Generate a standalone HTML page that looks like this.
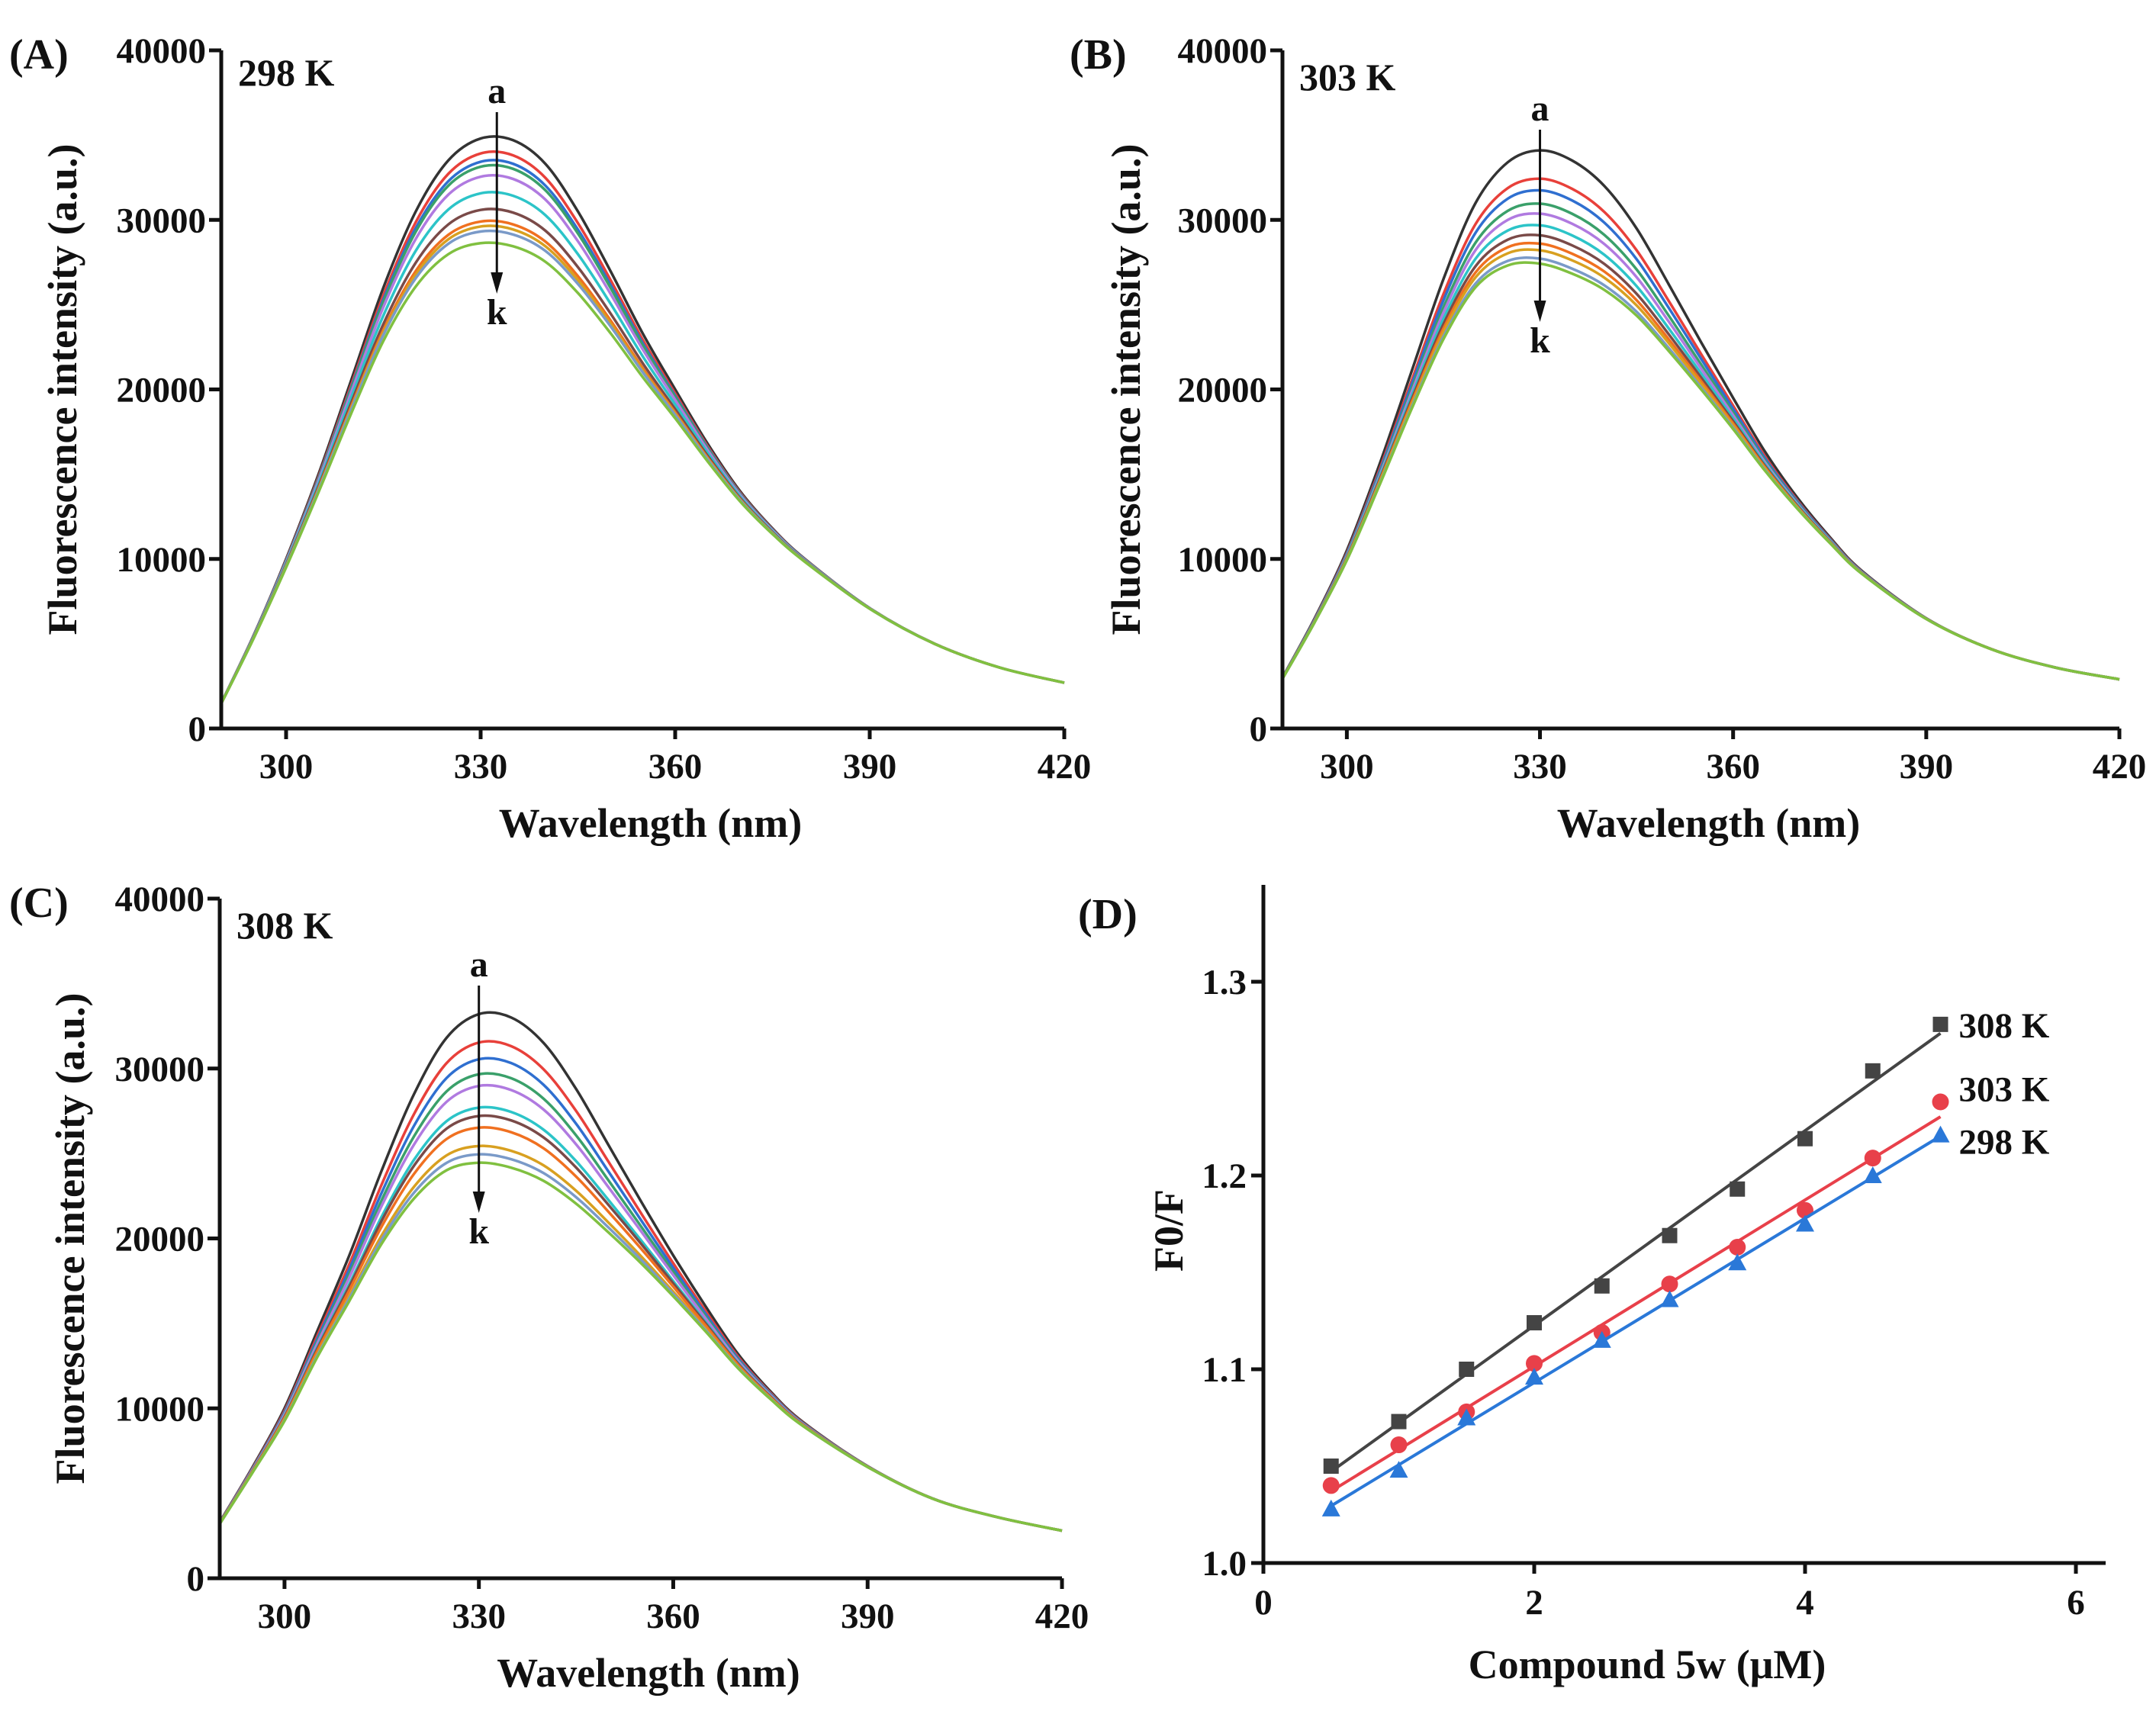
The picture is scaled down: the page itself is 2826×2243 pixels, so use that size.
<!DOCTYPE html>
<html><head><meta charset="utf-8"><style>
html,body{margin:0;padding:0;background:#fff;}
svg{display:block;font-family:"Liberation Serif",serif;font-weight:bold;}
</style></head><body>
<svg id="fig" width="2826" height="2243" viewBox="0 0 2826 2243" xmlns="http://www.w3.org/2000/svg"></svg>
<script>
// ---- Data ----
const wavelengths = [290,295,300,305,310,315,320,325,330,335,340,345,350,355,360,365,370,375,380,390,400,410,420];
const shapeA = [1500,5500,10000,15000,20500,26000,30500,33500,34800,34700,33300,30500,27000,23300,20000,16800,14000,11800,10000,7100,5000,3600,2700];
const shapeB = [3000,6500,10500,15500,21000,26500,31000,33400,34100,33500,32000,29500,26200,22800,19500,16300,13600,11300,9300,6500,4700,3600,2900];
const shapeC = [3300,6500,10000,14500,19000,24000,28500,31800,33200,33000,31500,28800,25500,22200,19000,16000,13200,11000,9200,6600,4700,3600,2800];
const peaksA = [34900,34000,33500,33200,32600,31600,30600,29900,29600,29300,28600];
const peaksB = [34100,32400,31700,30900,30300,29600,29000,28500,28100,27600,27300];
const peaksC = [33200,31500,30500,29600,28900,27600,27100,26400,25300,24800,24300];
const curveLabels = ['a','b','c','d','e','f','g','h','i','j','k'];
const yTicks = [0,10000,20000,30000,40000];
const xTicks = [300,330,360,390,420];
const concentrations = [0.5,1,1.5,2,2.5,3,3.5,4,4.5,5];
const ratio308 = [1.050,1.073,1.100,1.124,1.143,1.169,1.193,1.219,1.254,1.278];
const ratio303 = [1.040,1.061,1.078,1.103,1.119,1.144,1.163,1.182,1.209,1.238];
const ratio298 = [1.028,1.048,1.075,1.096,1.115,1.136,1.155,1.175,1.200,1.221];
const dXTicks = [0,2,4,6];
const dYTicks = [1.0,1.1,1.2,1.3];

const colors = ['#333333','#e8403a','#2f6fd0','#3aa06a','#b07ae0','#2cc4c8','#7a4a48','#f07020','#d8a020','#7a9ac8','#80c040'];
const NS='http://www.w3.org/2000/svg';
const svg=document.getElementById('fig');
function mk(tag,attrs,parent){const e=document.createElementNS(NS,tag);for(const k in attrs)e.setAttribute(k,attrs[k]);(parent||svg).appendChild(e);return e;}
function txt(s,x,y,size,anchor,parent,rot){const t=mk('text',{x:x,y:y,'font-size':size,'text-anchor':anchor||'middle',fill:'#111'},parent);if(rot)t.setAttribute('transform','rotate(-90 '+x+' '+y+')');t.textContent=s;return t;}

function spectrum(cfg){
  const g=mk('g',{});
  
  
  const sx=v=>cfg.x0+(v-290)/(420-290)*(cfg.x1-cfg.x0);
  const sy=v=>cfg.y0-(v/40000)*(cfg.y0-cfg.y1);
  const top=cfg.peaks[0];
  cfg.peaks.forEach((p,i)=>{
    const r=p/top;
    const pts=wavelengths.map((w,j)=>{
      const gw=Math.exp(-Math.pow((w-334)/30,2));
      const f=1-(1-r)*gw;
      return [sx(w),sy(cfg.shape[j]*f)];
    });
    let d='M'+pts[0][0]+','+pts[0][1];
    for(let k=0;k<pts.length-1;k++){
      const p0=pts[Math.max(0,k-1)],p1=pts[k],p2=pts[k+1],p3=pts[Math.min(pts.length-1,k+2)];
      d+=' C'+(p1[0]+(p2[0]-p0[0])/6)+','+(p1[1]+(p2[1]-p0[1])/6)+' '+(p2[0]-(p3[0]-p1[0])/6)+','+(p2[1]-(p3[1]-p1[1])/6)+' '+p2[0]+','+p2[1];
    }
    const path=mk('path',{d:d,fill:'none',stroke:colors[i],'stroke-width':3.5},g);
    
    
  });
  const ax=mk('path',{d:'M'+cfg.x0+','+(cfg.y1)+' L'+cfg.x0+','+cfg.y0+' L'+cfg.x1+','+cfg.y0,fill:'none',stroke:'#111','stroke-width':5},g);
  
  
  yTicks.forEach(v=>{
    mk('line',{x1:cfg.x0-16,x2:cfg.x0,y1:sy(v),y2:sy(v),stroke:'#111','stroke-width':5},g);
    const t=txt(String(v),cfg.x0-20,sy(v)+16,47,'end',g);
    
    
  });
  xTicks.forEach(v=>{
    mk('line',{x1:sx(v),x2:sx(v),y1:cfg.y0,y2:cfg.y0+14,stroke:'#111','stroke-width':5},g);
    const t=txt(String(v),sx(v),cfg.y0+65,47,'middle',g);
    
    
  });
  const xt=txt('Wavelength (nm)',(cfg.x0+cfg.x1)/2+10,cfg.y0+142,54,'middle',g);
  
  
  const yt=txt('Fluorescence intensity (a.u.)',cfg.ytx,(cfg.y0+cfg.y1)/2,54,'middle',g,true);
  
  
  const pl=txt(cfg.label,cfg.lx,cfg.y1+24,56,'start',g);
  
  
  const tl=txt(cfg.temp,cfg.x0+22,cfg.y1+cfg.tdy,50,'start',g);
  
  
  const axx=sx(cfg.arrowW);
  const at=txt('a',axx,cfg.ay,48,'middle',g);
  
  
  const ar=mk('line',{x1:axx,x2:axx,y1:cfg.ay+12,y2:cfg.ky-58,stroke:'#111','stroke-width':3},g);
  
  
  mk('path',{d:'M'+(axx-8)+','+(cfg.ky-68)+' L'+(axx+8)+','+(cfg.ky-68)+' L'+axx+','+(cfg.ky-40)+' Z',fill:'#111'},g);
  const kt=txt('k',axx,cfg.ky,48,'middle',g);
  
  
}

spectrum({name:'panel-a',x0:290,x1:1395,y0:955,y1:66,shape:shapeA,peaks:peaksA,label:'(A)',lx:12,temp:'298 K',tdy:46,ytx:100,arrowW:332.5,ay:135,ky:425});
spectrum({name:'panel-b',x0:1681,x1:2778,y0:955,y1:66,shape:shapeB,peaks:peaksB,label:'(B)',lx:1402,temp:'303 K',tdy:52,ytx:1494,arrowW:330,ay:158,ky:462});
spectrum({name:'panel-c',x0:288,x1:1392,y0:2069,y1:1178,shape:shapeC,peaks:peaksC,label:'(C)',lx:12,temp:'308 K',tdy:52,ytx:110,arrowW:330,ay:1280,ky:1630});

// ---- Panel D ----
(function(){
  const g=mk('g',{});
  
  
  const x0=1656,x6=2721,xEnd=2760,y0=2049,y13=1287,yTop=1160;
  const sx=v=>x0+v/6*(x6-x0);
  const sy=v=>y0-(v-1.0)/0.3*(y0-y13);
  const ax=mk('path',{d:'M'+x0+','+yTop+' L'+x0+','+y0+' L'+xEnd+','+y0,fill:'none',stroke:'#111','stroke-width':5},g);
  
  
  dXTicks.forEach(v=>{
    mk('line',{x1:sx(v),x2:sx(v),y1:y0,y2:y0+14,stroke:'#111','stroke-width':5},g);
    const t=txt(String(v),sx(v),y0+67,47,'middle',g);
    
    
  });
  dYTicks.forEach(v=>{
    mk('line',{x1:x0-16,x2:x0,y1:sy(v),y2:sy(v),stroke:'#111','stroke-width':5},g);
    const t=txt(v.toFixed(1),x0-22,sy(v)+16,47,'end',g);
    
    
  });
  const xt=txt('Compound 5w (\u03bcM)',2159,2200,54,'middle',g);
  
  
  const yt=txt('F0/F',1550,1613,54,'middle',g,true);
  
  
  const pl=txt('(D)',1413,1217,56,'start',g);
  
  
  const series=[
    {name:'308k',vals:ratio308,color:'#444444',marker:'square',label:'308 K'},
    {name:'303k',vals:ratio303,color:'#e8404a',marker:'circle',label:'303 K'},
    {name:'298k',vals:ratio298,color:'#2a78d8',marker:'triangle',label:'298 K'}
  ];
  const labelDy=[0,-18,8];
  series.forEach((s,si)=>{
    const n=concentrations.length;
    const mx=concentrations.reduce((a,b)=>a+b)/n, my=s.vals.reduce((a,b)=>a+b)/n;
    let num=0,den=0;
    concentrations.forEach((c,i)=>{num+=(c-mx)*(s.vals[i]-my);den+=(c-mx)*(c-mx);});
    const k=num/den,b=my-k*mx;
    const c0=concentrations[0],c1=concentrations[n-1];
    const ln=mk('line',{x1:sx(c0),y1:sy(k*c0+b),x2:sx(c1),y2:sy(k*c1+b),stroke:s.color,'stroke-width':4},g);
    
    
    concentrations.forEach((c,i)=>{
      const px=sx(c),py=sy(s.vals[i]);
      let m;
      if(s.marker==='square') m=mk('rect',{x:px-10,y:py-10,width:20,height:20,fill:s.color},g);
      else if(s.marker==='circle') m=mk('circle',{cx:px,cy:py,r:11,fill:s.color},g);
      else m=mk('path',{d:'M'+px+','+(py-12)+' L'+(px+12)+','+(py+10)+' L'+(px-12)+','+(py+10)+' Z',fill:s.color},g);
      
      
    });
    const t=txt(s.label,sx(c1)+24,sy(s.vals[n-1])+17+labelDy[si],47,'start',g);
    
    
  });
})();
</script>
</body></html>
